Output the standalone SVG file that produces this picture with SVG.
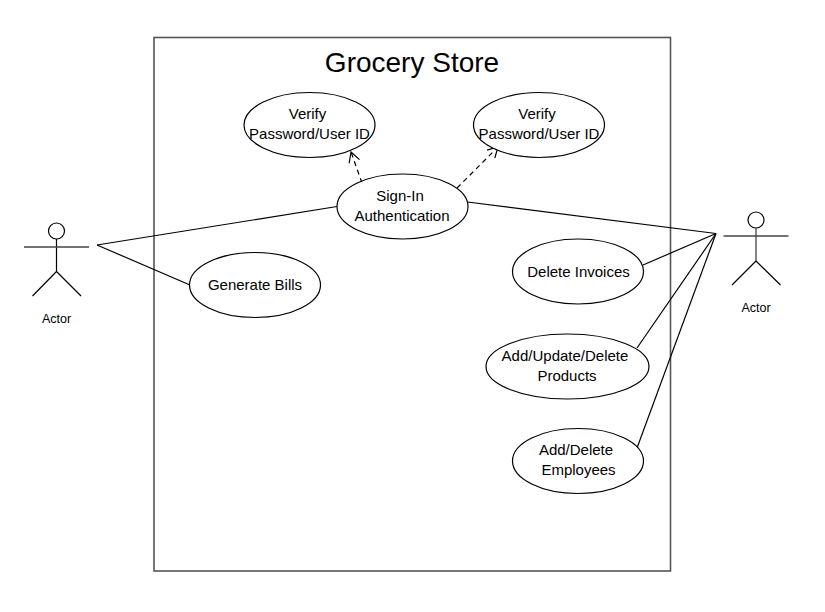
<svg xmlns="http://www.w3.org/2000/svg" width="825" height="612" viewBox="0 0 825 612">
<style>
text{font-family:"Liberation Sans",Arial,sans-serif;text-anchor:middle;fill:#000}
.u{font-size:15px}
.a{font-size:12.500px}
.n{fill:#fff;stroke:#000;stroke-width:1.200}
.l{fill:none;stroke:#000;stroke-width:1.200}
.g{fill:none;stroke:#444;stroke-width:1.300}
</style>
<defs>
<marker id="open" markerWidth="14" markerHeight="14" refX="11" refY="7" orient="auto" markerUnits="userSpaceOnUse"><path d="M1 1.500L11 7L1 12.500" fill="none" stroke="#000" stroke-width="1.200"/></marker>
</defs>
<rect id="boundary" x="154" y="37.500" width="516.500" height="533.500" fill="#fff" stroke="#555" stroke-width="1.600"/>
<text x="412" y="72" font-size="28">Grocery Store</text>
<g id="connectors">
<path class="l" d="M97 245L337 206.500"/>
<path class="l" d="M97 245L190 285"/>
<path class="l" d="M467.500 202L716 233.500"/>
<path class="l" d="M643 265L716 233.500"/>
<path class="l" d="M637 348L716 233.500"/>
<path class="l" d="M637 448L716 233.500"/>
<path class="l" d="M362 183L351 152" stroke-dasharray="5 4" marker-end="url(#open)"/>
<path class="l" d="M457 188L498 147" stroke-dasharray="5 4" marker-end="url(#open)"/>
</g>
<g id="actor-left">
<circle class="n" cx="56.500" cy="231" r="8"/>
<path class="l" d="M56.500 239V271.500M56.500 271.500L32.500 296M56.500 271.500L81 296"/>
<path class="g" d="M24 247H89"/>
<text class="a" x="56.500" y="323">Actor</text>
</g>
<g id="actor-right">
<circle class="n" cx="756" cy="220" r="8"/>
<path class="g" d="M756 228V261"/>
<path class="l" d="M756 261L732 285M756 261L780.500 285"/>
<path class="g" d="M723.500 236H788.500"/>
<text class="a" x="756" y="312">Actor</text>
</g>
<g id="verify-1">
<ellipse class="n" cx="309.500" cy="125" rx="65.500" ry="32.500"/>
<text class="u" x="307.500" y="118.500">Verify</text>
<text class="u" x="309.500" y="138.500">Password/User ID</text>
</g>
<g id="verify-2">
<ellipse class="n" cx="539" cy="125" rx="65.500" ry="32.500"/>
<text class="u" x="537" y="118.500">Verify</text>
<text class="u" x="539" y="138.500">Password/User ID</text>
</g>
<g id="sign-in">
<ellipse class="n" cx="402.500" cy="206.500" rx="65.500" ry="32.500"/>
<text class="u" x="400" y="200.500">Sign-In</text>
<text class="u" x="402" y="220.500">Authentication</text>
</g>
<g id="generate-bills">
<ellipse class="n" cx="255" cy="285" rx="65.500" ry="32.500"/>
<text class="u" x="255" y="289.500">Generate Bills</text>
</g>
<g id="delete-invoices">
<ellipse class="n" cx="578" cy="271.500" rx="65.500" ry="32.500"/>
<text class="u" x="578.500" y="276.500">Delete Invoices</text>
</g>
<g id="products">
<ellipse class="n" cx="567.500" cy="366.500" rx="81.500" ry="32.500"/>
<text class="u" x="565" y="360.500">Add/Update/Delete</text>
<text class="u" x="567" y="380.500">Products</text>
</g>
<g id="employees">
<ellipse class="n" cx="578" cy="461" rx="65.500" ry="32.500"/>
<text class="u" x="576" y="454.500">Add/Delete</text>
<text class="u" x="578.500" y="474.500">Employees</text>
</g>
</svg>
